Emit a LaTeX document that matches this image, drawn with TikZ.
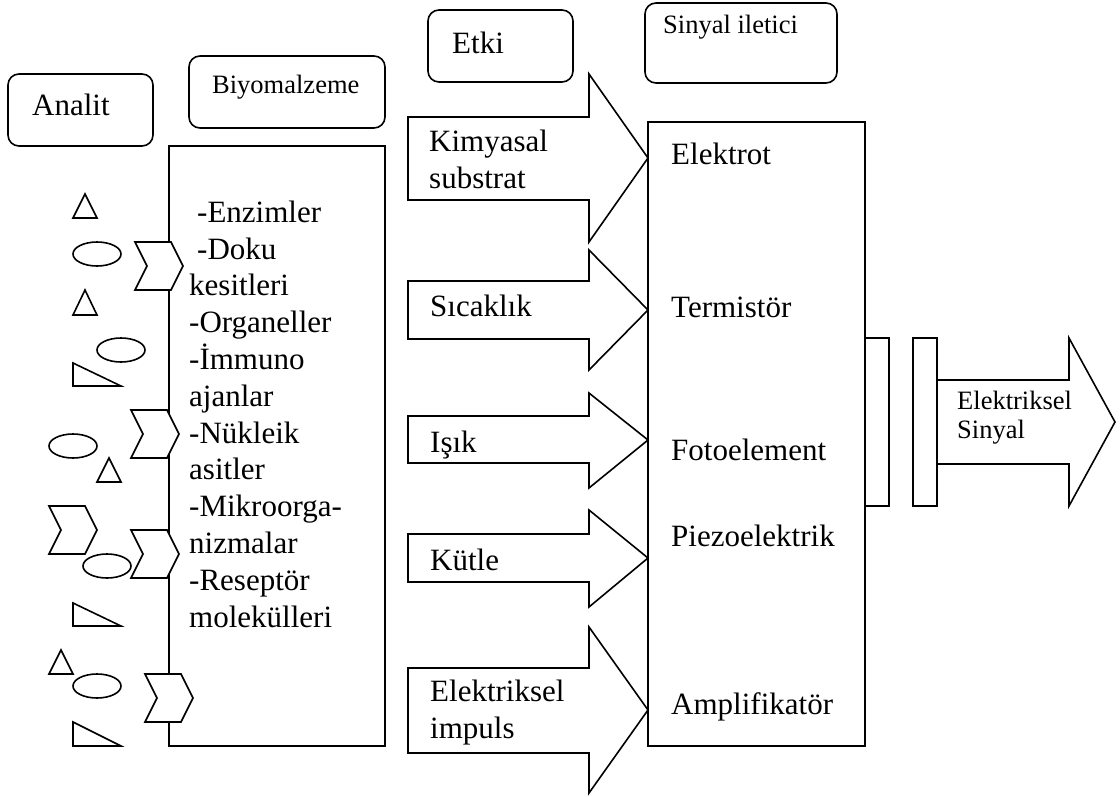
\documentclass[tikz,border=0pt]{standalone}
\usepackage{fontspec}
\setmainfont{Liberation Serif}
\begin{document}
\begin{tikzpicture}[x=1pt,y=-1pt,
  ln/.style={line width=1.6pt, line join=miter},
  rbox/.style={draw, line width=1.6pt, rounded corners=11pt},
  shp/.style={draw, line width=1.6pt, fill=white, line join=miter},
  big/.style={font=\fontsize{31}{36.8}\selectfont, inner sep=0pt, anchor=base west, align=left},
  small/.style={font=\fontsize{26.5}{28.5}\selectfont, inner sep=0pt, anchor=base west, align=left},
  chev/.pic={\draw[shp] (0,0)--(36,0)--(48,24)--(36,48)--(0,48)--(12,24)--cycle;}]
\useasboundingbox (0,0) rectangle (1120,796);
% header boxes
\draw[rbox] (8,74) rectangle (153,146);
\node[big] (analit) at (32,115) {Analit};
\draw[rbox] (189,56) rectangle (385,128);
\node[small] (biyo) at (212,93) {Biyomalzeme};
\draw[rbox] (428,10) rectangle (573,82);
\node[big] (etki) at (452,53) {Etki};
\draw[rbox] (645,3) rectangle (837,83);
\node[small] (sinyal) at (663,33) {Sinyal iletici};
% biomaterial box
\draw[ln] (169,146) rectangle (385,746);
\node[big] (biolist) at (189,627) {\hspace*{8pt}-Enzimler\\\hspace*{8pt}-Doku\\kesitleri\\-Organeller\\-İmmuno\\ajanlar\\-Nükleik\\asitler\\-Mikroorga-\\nizmalar\\-Reseptör\\molekülleri};
% receptors on biomaterial
\pic at (135,242) {chev};
\pic at (131,410) {chev};
\pic at (131,530) {chev};
\pic at (145,674) {chev};
% analytes
\draw[shp] (73,218)--(97,218)--(85,194)--cycle;
\draw[shp] (73,315)--(97,315)--(85,290)--cycle;
\draw[shp] (97,482)--(121,482)--(109,458)--cycle;
\draw[shp] (49,674)--(73,674)--(61,650)--cycle;
\draw[shp] (97,254) ellipse [x radius=24, y radius=12];
\draw[shp] (121,350) ellipse [x radius=24, y radius=12];
\draw[shp] (73,446) ellipse [x radius=24, y radius=12];
\draw[shp] (107,566) ellipse [x radius=24, y radius=12];
\draw[shp] (97,686) ellipse [x radius=24, y radius=12];
\draw[shp] (73,363)--(73,386)--(121,386)--cycle;
\draw[shp] (73,603)--(73,626)--(121,626)--cycle;
\draw[shp] (73,722)--(73,746)--(121,746)--cycle;
\pic at (49,506) {chev};
% effect arrows
\draw[shp] (408,117)--(589,117)--(589,74)--(648,158)--(589,242)--(589,200)--(408,200)--cycle;
\node[big] (kim) at (429,188) {Kimyasal\\substrat};
\draw[shp] (408,281)--(589,281)--(589,250)--(648,310)--(589,370)--(589,339)--(408,339)--cycle;
\node[big] (sic) at (430,316) {Sıcaklık};
\draw[shp] (408,416)--(589,416)--(589,393)--(648,440)--(589,488)--(589,463)--(408,463)--cycle;
\node[big] (isik) at (430,452) {Işık};
\draw[shp] (408,534)--(589,534)--(589,510)--(648,558)--(589,607)--(589,582)--(408,582)--cycle;
\node[big] (kutle) at (430,570) {Kütle};
\draw[shp] (408,668)--(589,668)--(589,627)--(648,710)--(589,793)--(589,753)--(408,753)--cycle;
\node[big] (imp) at (430,738) {Elektriksel\\impuls};
% transducer box
\draw[ln] (648,122) rectangle (865,746);
\node[big] (el) at (671,164) {Elektrot};
\node[big] (term) at (671,317) {Termistör};
\node[big] (foto) at (671,460) {Fotoelement};
\node[big] (piezo) at (671,546) {Piezoelektrik};
\node[big] (amp) at (671,714) {Amplifikatör};
% output
\draw[shp] (865,338) rectangle (889,506);
\draw[shp] (913,338) rectangle (937,506);
\draw[shp] (937,380)--(1069,380)--(1069,338)--(1115,422)--(1069,506)--(1069,464)--(937,464)--cycle;
\node[small] (out) at (957,438) {Elektriksel\\Sinyal};
\end{tikzpicture}
\end{document}
